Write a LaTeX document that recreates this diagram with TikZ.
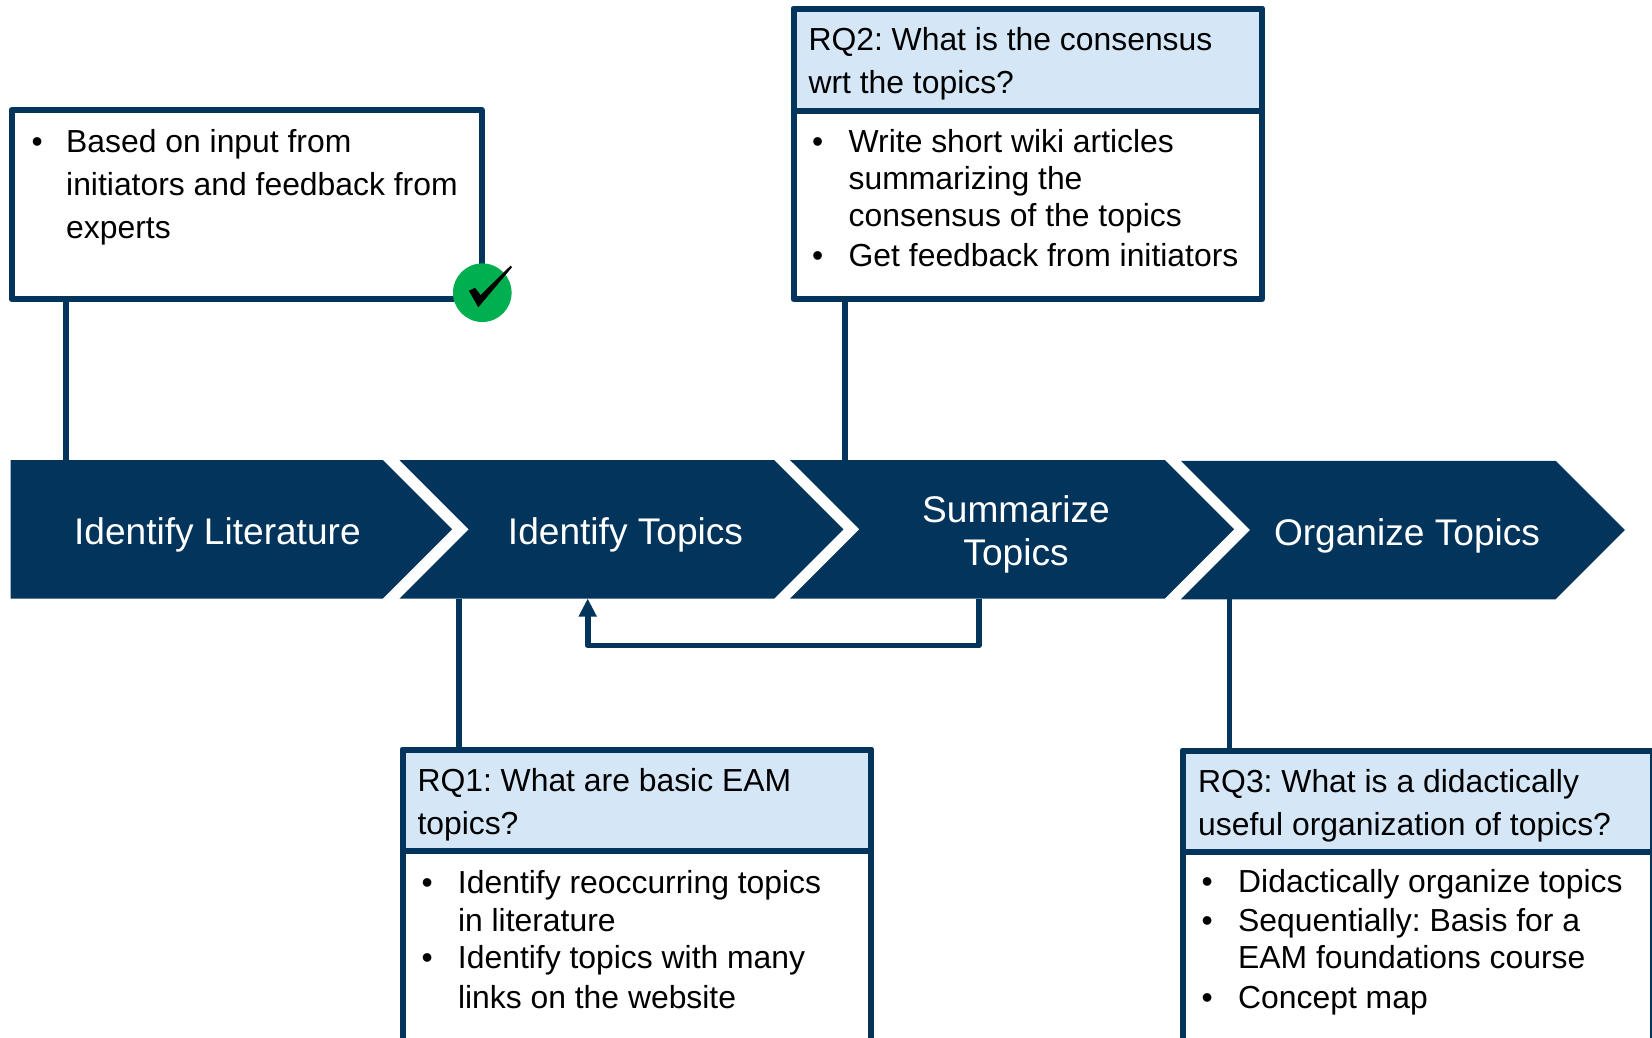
\documentclass[tikz,border=0pt]{standalone}
\usepackage{fontspec}
\setmainfont{Liberation Sans}
\usetikzlibrary{shapes.symbols,arrows.meta}
\definecolor{navy}{HTML}{03345B}
\definecolor{hdr}{HTML}{D5E6F7}
\definecolor{okgreen}{HTML}{00B050}
\newcommand\bul{\makebox[36.5pt][l]{•}}
\newcommand\ind{\hspace*{36.5pt}}
\newcommand\bull{\makebox[34.5pt][l]{•}}
\newcommand\indl{\hspace*{34.5pt}}
\frenchspacing
\tikzset{
  chev/.style={shape=signal,signal to=east,signal from=west,signal pointer angle=90,fill=navy,draw=none,minimum width=444pt,minimum height=138.5pt,inner sep=0pt,outer sep=0pt,anchor=center},
  chevfirst/.style={chev,signal from=nowhere,minimum width=441.5pt},
  chevtext/.style={text=white,font=\fontsize{37.1}{43}\selectfont,align=center,inner sep=0pt,anchor=base},
  panel/.style={draw=navy,line width=6pt,fill=white,line join=round,minimum width=#1,anchor=north west,inner sep=0pt,outer sep=0pt},
  header/.style={panel=#1,fill=hdr},
  paneltext/.style={font=\fontsize{31.87}{37}\selectfont,text=black,align=left,inner sep=0pt,anchor=base west},
  link/.style={draw=navy,line width=5.8pt},
  back/.style={link,line join=round,-{Triangle[width=17pt,length=18pt]}},
}
\begin{document}
\begin{tikzpicture}[x=1pt,y=-1pt]
\useasboundingbox (0,0) rectangle (1652,1037);
\clip (0,0) rectangle (1652,1037);
% chevrons
\node[chevfirst] (c1) at (196.75,529.25) {};
\node[chev] (c2) at (621.5,529.25) {};
\node[chev] (c3) at (1012,529.25) {};
\node[chev] (c4) at (1402.8,530) {};
\node[chevtext] (t1) at (217.4,544.7) {Identify Literature};
\node[chevtext] (t2) at (625.5,544.7) {Identify Topics};
\node[chevtext] (t3) at (1016,565.8) {Summarize\\Topics};
\node[chevtext] (t4) at (1407,545.5) {Organize Topics};
% panels
\node[panel=470pt,minimum height=189pt] (b0) at (11.5,110) {};
\node[panel=468.5pt,minimum height=290.5pt] (b2) at (793.5,8.8) {};
\node[header=468.5pt,minimum height=101.7pt] (h2) at (793.5,8.8) {};
\node[panel=468.5pt,minimum height=320pt] (b1) at (402.5,749.5) {};
\node[header=468.5pt,minimum height=101.5pt] (h1) at (402.5,749.5) {};
\node[panel=470pt,minimum height=320pt] (b3) at (1183,750.5) {};
\node[header=470pt,minimum height=101.5pt] (h3) at (1183,750.5) {};
% panel texts
\node[paneltext] (p0) at (31.5,238) {\bull Based on input from\\[6pt]\indl initiators and feedback from\\[6pt]\indl experts};
\node[paneltext] (q2) at (808.3,93) {RQ2: What is the consensus\\[6pt]wrt the topics?};
\node[paneltext] (p2) at (812,266.3) {\bul Write short wiki articles\\\ind summarizing the\\\ind consensus of the topics\\[3pt]\bul Get feedback from initiators};
\node[paneltext] (q1) at (417.3,834) {RQ1: What are basic EAM\\[6pt]topics?};
\node[paneltext] (p1) at (421.3,1008) {\bul Identify reoccurring topics\\[1pt]\ind in literature\\\bul Identify topics with many\\[3pt]\ind links on the website};
\node[paneltext] (q3) at (1198,835) {RQ3: What is a didactically\\[6pt]useful organization of topics?};
\node[paneltext] (p3) at (1201.5,1008) {\bul Didactically organize topics\\[1.7pt]\bul Sequentially: Basis for a\\\ind EAM foundations course\\[3pt]\bul Concept map};
% connectors
\coordinate (x0) at (65.6,0);
\coordinate (x1) at (458.6,0);
\coordinate (x2) at (845,0);
\coordinate (x3) at (1229.5,0);
\coordinate (xfrom) at (978.8,0);
\coordinate (xto) at (587.7,0);
\coordinate (yback) at (0,645.5);
\draw[link] (x0 |- b0.south) -- (x0 |- c1.north);
\draw[link] (x1 |- c2.south) -- (x1 |- b1.north);
\draw[link] (x2 |- b2.south) -- (x2 |- c3.north);
\draw[link] (x3 |- c4.south) -- (x3 |- b3.north);
\draw[back] (xfrom |- c3.south) -- (xfrom |- yback) -- (xto |- yback) -- (xto |- c2.south);
% check badge
\node[circle,fill=okgreen,minimum size=58.6pt,inner sep=0pt,outer sep=0pt] (ok) at (482.3,292.7) {};
\fill[black,draw=black,line width=.6pt,line join=round] (469.3,290.9) -- (475,288.2) -- (480.6,295.6) -- (510.7,266) -- (511.5,267.3) -- (478.3,306.8) -- (473.6,298.3) -- cycle;
\end{tikzpicture}
\end{document}
